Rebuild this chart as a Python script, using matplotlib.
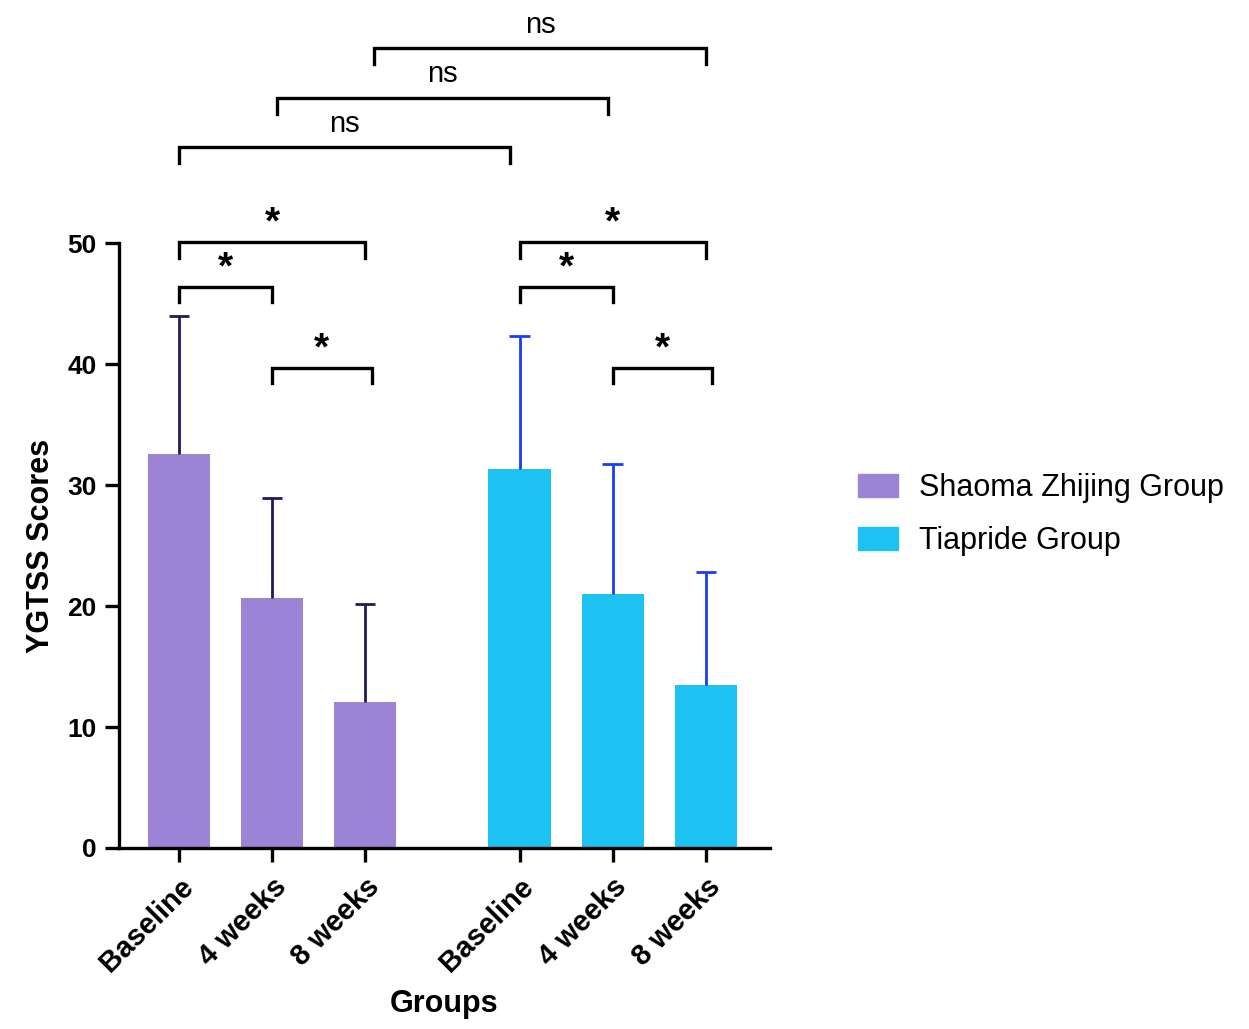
import numpy as np
import matplotlib.pyplot as plt
from matplotlib.patches import Patch

plt.rcParams['font.family'] = ['Liberation Sans', 'DejaVu Sans']

# -----------------------
# данные
# -----------------------
timepoints = ['Baseline', '4 weeks', '8 weeks']
groups = ['Shaoma Zhijing Group', 'Tiapride Group']
shaoma_mean = [32.6, 20.7, 12.1]
shaoma_sd = [11.4, 8.2, 8.1]
tiapride_mean = [31.3, 21.0, 13.5]
tiapride_sd = [11.0, 10.7, 9.3]

# сравнения внутри групп: (i, j, y, метка)
within_pairs = [(0, 1, 46.4, '*'), (0, 2, 50.1, '*'), (1, 2, 39.7, '*')]
# сравнения между группами
between_pairs = [(0, 57.9, 'ns'), (1, 62.0, 'ns'), (2, 66.1, 'ns')]

bar_colors = ['#9d83d6', '#1dc1f2']
err_colors = ['#23195a', '#1c3cf0']

x1 = np.arange(3)
x2 = np.arange(3) + 3.66
width = 0.67

fig = plt.figure(figsize=(12.49, 10.29), dpi=100)
ax = fig.add_axes([0.0953, 0.1759, 0.5212, 0.5879])

cap = 0.11
for xs, m, s, c, ec in [(x1, shaoma_mean, shaoma_sd, bar_colors[0], err_colors[0]),
                        (x2, tiapride_mean, tiapride_sd, bar_colors[1], err_colors[1])]:
    top = np.array(m) + np.array(s)
    ax.bar(xs, m, width=width, color=c, zorder=2)
    ax.vlines(xs, m, top, color=ec, lw=2, zorder=3)
    ax.hlines(top, xs - cap, xs + cap, color=ec, lw=2, zorder=3)

ax.set_xlim(-0.645, 6.35)
ax.set_ylim(0, 50)
ax.set_yticks([0, 10, 20, 30, 40, 50])
ax.set_xticks(np.concatenate([x1, x2]))
ax.set_xticklabels(timepoints * 2, rotation=45, ha='right',
                   rotation_mode='anchor', fontsize=21, fontweight='bold')
for lab in ax.get_yticklabels():
    lab.set_fontsize(19)
    lab.set_fontweight('bold')

for sp in ['top', 'right']:
    ax.spines[sp].set_visible(False)
for sp in ['left', 'bottom']:
    ax.spines[sp].set_linewidth(2.4)
ax.tick_params(axis='both', width=2.4, length=10, pad=6)
ax.tick_params(axis='x', pad=8)

ax.set_ylabel('YGTSS Scores', fontsize=22, fontweight='bold', labelpad=8)
ax.set_xlabel('Groups', fontsize=22, fontweight='bold', labelpad=8)

# -----------------------------------
# скобки значимости
# -----------------------------------
def bracket(xa, xb, y, text, leg=1.3, fs=28, dy=1.0, weight='bold'):
    ax.plot([xa, xa, xb, xb], [y - leg, y, y, y - leg], color='black',
            lw=2.4, clip_on=False, solid_joinstyle='miter', zorder=4)
    ax.text((xa + xb) / 2, y + dy, text, ha='center', va='bottom',
            fontsize=fs, fontweight=weight, clip_on=False)

for xs in [x1, x2]:
    for i, j, y, t in within_pairs:
        off = 0.07 if (i, j) == (1, 2) else 0.0
        bracket(xs[i], xs[j] + off, y, t, dy=0.0)

for k, y, t in between_pairs:
    bracket(x1[k] + 0.05 * k, x2[k] - 0.1 + 0.05 * k, y, t, fs=21, dy=0.8,
            weight='normal')

# легенда
handles = [Patch(color=c, label=g) for c, g in zip(bar_colors, groups)]
fig.legend(handles=handles, loc='center left', bbox_to_anchor=(0.687, 0.5),
           frameon=False, fontsize=22, handlelength=1.3, handleheight=0.8,
           labelspacing=0.75, handletextpad=0.7, borderpad=0,
           borderaxespad=0)

fig.savefig('out.png', dpi=100)
